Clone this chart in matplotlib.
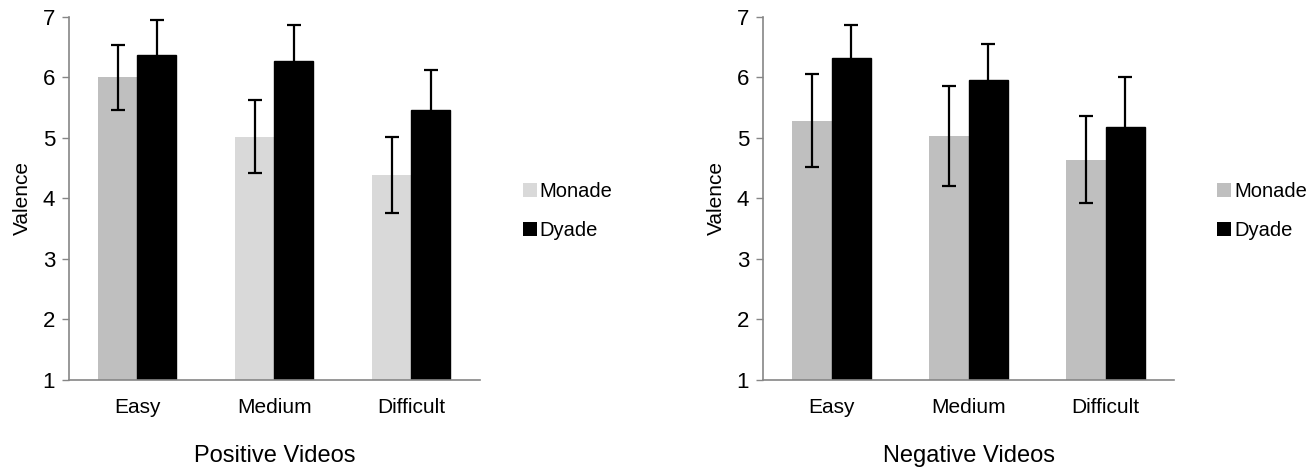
import matplotlib
matplotlib.use("Agg")
import matplotlib.pyplot as plt
import numpy as np
from matplotlib.patches import Patch

plt.rcParams["font.family"] = ["Liberation Sans", "DejaVu Sans"]

categories = ["Easy", "Medium", "Difficult"]

pos_monade = [6.00, 5.02, 4.38]
pos_monade_err = [0.54, 0.60, 0.63]
pos_dyade = [6.37, 6.26, 5.46]
pos_dyade_err = [0.58, 0.60, 0.66]

neg_monade = [5.28, 5.03, 4.64]
neg_monade_err = [0.77, 0.83, 0.72]
neg_dyade = [6.32, 5.95, 5.17]
neg_dyade_err = [0.54, 0.60, 0.83]

pos_monade_colors = ["#bfbfbf", "#d9d9d9", "#d9d9d9"]
neg_monade_colors = ["#bfbfbf", "#bfbfbf", "#bfbfbf"]

fig = plt.figure(figsize=(13.16, 4.67), dpi=100)
ax1 = fig.add_axes([0.0524, 0.1863, 0.3123, 0.778])
ax2 = fig.add_axes([0.5798, 0.1863, 0.3123, 0.778])

spine_color = "#868686"
w = 0.285
x = np.arange(len(categories))


def draw(ax, monade, monade_err, dyade, dyade_err, mcolors, legend_color, title):
    ax.bar(x - w / 2, np.array(monade) - 1, w, bottom=1, color=mcolors)
    ax.bar(x + w / 2, np.array(dyade) - 1, w, bottom=1, color="black",
           edgecolor="black", linewidth=1)
    ax.errorbar(x - w / 2, monade, yerr=monade_err, fmt="none", ecolor="black",
                elinewidth=1.6, capsize=5, capthick=1.6)
    ax.errorbar(x + w / 2, dyade, yerr=dyade_err, fmt="none", ecolor="black",
                elinewidth=1.6, capsize=5, capthick=1.6)
    ax.set_xlim(-0.5, 2.5)
    ax.set_ylim(1, 7)
    ax.set_yticks(range(1, 8))
    ax.set_xticks(x)
    ax.set_xticklabels(categories)
    ax.tick_params(axis="x", length=0, pad=13, labelsize=15)
    ax.tick_params(axis="y", length=5, width=1, color=spine_color, pad=5, labelsize=16)
    for s in ["top", "right"]:
        ax.spines[s].set_visible(False)
    for s in ["left", "bottom"]:
        ax.spines[s].set_color(spine_color)
        ax.spines[s].set_linewidth(1.2)
    ax.set_ylabel("Valence", fontsize=15, labelpad=8)
    ax.set_xlabel(title, fontsize=17, labelpad=20)
    handles = [Patch(facecolor=legend_color, label="Monade"),
               Patch(facecolor="black", label="Dyade")]
    ax.legend(handles=handles, loc="center left", bbox_to_anchor=(1.06, 0.465),
              frameon=False, fontsize=14.5, handlelength=0.7, handleheight=0.7,
              handletextpad=0.15, labelspacing=1.0)


draw(ax1, pos_monade, pos_monade_err, pos_dyade, pos_dyade_err,
     pos_monade_colors, "#d9d9d9", "Positive Videos")
draw(ax2, neg_monade, neg_monade_err, neg_dyade, neg_dyade_err,
     neg_monade_colors, "#bfbfbf", "Negative Videos")

fig.savefig("out.png", dpi=100)
